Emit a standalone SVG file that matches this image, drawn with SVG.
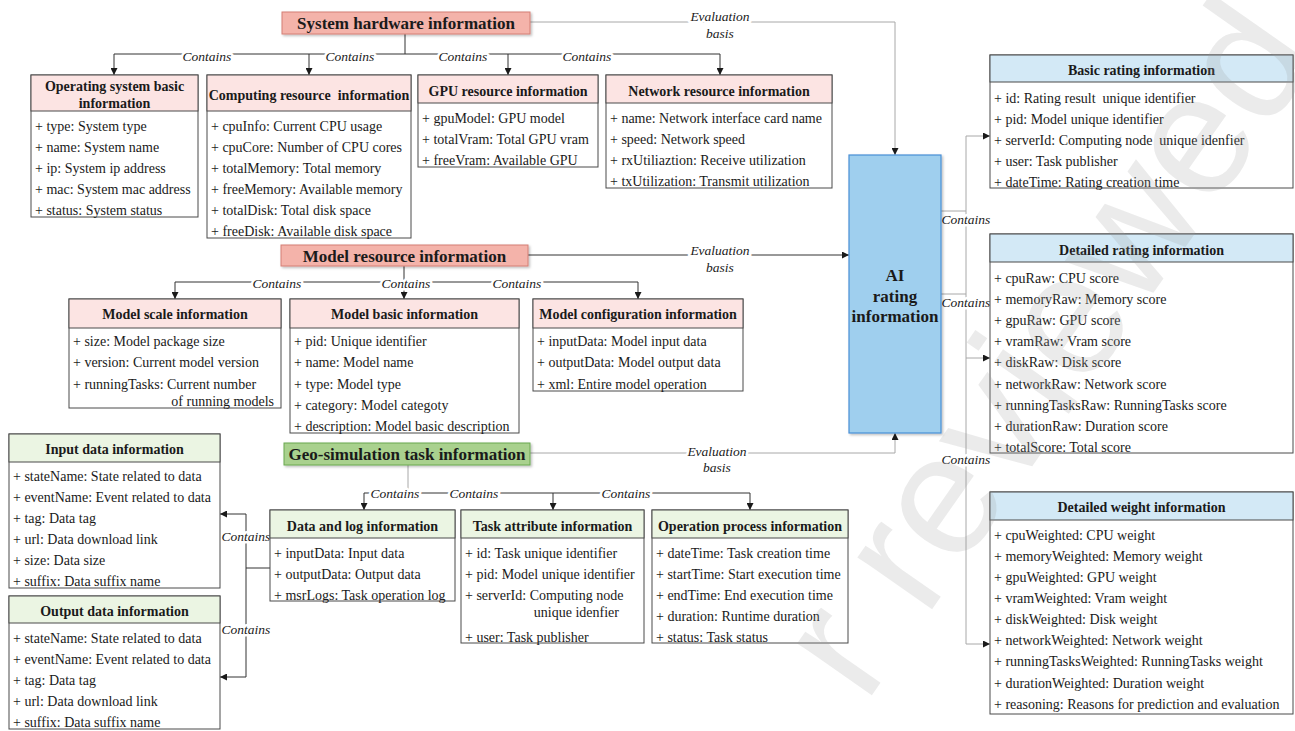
<svg xmlns="http://www.w3.org/2000/svg" width="1295" height="731" viewBox="0 0 1295 731">
  <defs>
    <marker id="arrow" viewBox="0 0 10 10" refX="10" refY="5" markerWidth="7" markerHeight="7" markerUnits="userSpaceOnUse" orient="auto">
      <path d="M0,0 L10,5 L0,10 z" fill="#1a1a1a"/>
    </marker>
    <filter id="shadow" x="-5%" y="-20%" width="110%" height="150%">
      <feDropShadow dx="1.5" dy="1.5" stdDeviation="1" flood-color="#000" flood-opacity="0.25"/>
    </filter>
  </defs>
  <style>
    text { font-family: "Liberation Serif", "Times New Roman", serif; fill: #1a1a1a; }
    .pre { white-space: pre; }
    .box { fill: #ffffff; stroke: #4a4a4a; stroke-width: 1; }
    .hp { fill: #fce4e3; stroke: #4a4a4a; stroke-width: 1; }
    .hg { fill: #ebf5e3; stroke: #4a4a4a; stroke-width: 1; }
    .hb { fill: #d3e9f6; stroke: #4a4a4a; stroke-width: 1; }
    .row { font-size: 14px; }
    .ttl { font-size: 14px; font-weight: bold; text-anchor: middle; }
    .main { font-size: 17px; font-weight: bold; text-anchor: middle; }
    .red { fill: #f4b3aa; stroke: #d47f74; stroke-width: 1; filter: url(#shadow); }
    .green { fill: #a9d18e; stroke: #6aa84f; stroke-width: 1; filter: url(#shadow); }
    .ai { fill: #9fcfee; stroke: #4a8fd6; stroke-width: 1.2; filter: url(#shadow); }
    .ln { fill: none; stroke: #333; stroke-width: 1; }
    .lg { fill: none; stroke: #a8a8a8; stroke-width: 1; }
    .arr { marker-end: url(#arrow); }
    .lbl { font-size: 13.5px; font-style: italic; text-anchor: middle; stroke: #fff; stroke-width: 5; paint-order: stroke; stroke-linejoin: round; }
    .wm { font-family: "Liberation Sans", Arial, sans-serif; font-size: 172px; fill: #9a9a9a; fill-opacity: 0.2; }
  </style>

  <!-- connectors -->
  <g id="connectors">
    <!-- system hardware -->
    <path class="ln" d="M405,34 V54 M114,54 H720"/>
    <path class="ln arr" d="M114,54 V75"/>
    <path class="ln arr" d="M309,54 V75"/>
    <path class="ln arr" d="M508,54 V75"/>
    <path class="ln arr" d="M720,54 V75"/>
    <path class="lg arr" d="M530,22 H895 V155"/>
    <!-- model resource -->
    <path class="ln" d="M404,266 V282 M175,282 H638"/>
    <path class="ln arr" d="M175,282 V299"/>
    <path class="ln arr" d="M404,282 V299"/>
    <path class="ln arr" d="M638,282 V299"/>
    <path class="ln arr" d="M528,255 H849"/>
    <!-- geo-simulation task -->
    <path class="lg" d="M408,465 V493"/>
    <path class="ln" d="M364,493 H750"/>
    <path class="ln arr" d="M364,493 V510"/>
    <path class="ln arr" d="M553,493 V510"/>
    <path class="ln arr" d="M750,493 V510"/>
    <path class="lg arr" d="M530,453 H895 V433"/>
    <!-- data and log -->
    <path class="ln" d="M270,568 H246 M246,514 V677"/>
    <path class="ln arr" d="M246,514 H220"/>
    <path class="ln arr" d="M246,677 H220"/>
    <!-- AI rating -->
    <path class="lg" d="M941,211 H966 M941,294 H966 M966,136 V644"/>
    <path class="lg arr" d="M966,136 H990"/>
    <path class="lg arr" d="M966,358 H990"/>
    <path class="lg arr" d="M966,644 H990"/>

    <text class="lbl" x="207" y="60.5">Contains</text>
    <text class="lbl" x="350" y="60.5">Contains</text>
    <text class="lbl" x="463" y="60.5">Contains</text>
    <text class="lbl" x="587" y="60.5">Contains</text>
    <text class="lbl" x="720" y="20.5">Evaluation</text>
    <text class="lbl" x="720" y="37.5">basis</text>
    <text class="lbl" x="277" y="287.5">Contains</text>
    <text class="lbl" x="406" y="287.5">Contains</text>
    <text class="lbl" x="517" y="287.5">Contains</text>
    <text class="lbl" x="720" y="254.5">Evaluation</text>
    <text class="lbl" x="720" y="271.5">basis</text>
    <text class="lbl" x="395" y="498">Contains</text>
    <text class="lbl" x="474" y="498">Contains</text>
    <text class="lbl" x="626" y="498">Contains</text>
    <text class="lbl" x="717" y="456">Evaluation</text>
    <text class="lbl" x="717" y="472">basis</text>
    <text class="lbl" x="246" y="541">Contains</text>
    <text class="lbl" x="246" y="634">Contains</text>
    <text class="lbl" x="966" y="224">Contains</text>
    <text class="lbl" x="966" y="307">Contains</text>
    <text class="lbl" x="966" y="464">Contains</text>
  </g>

  <!-- category nodes -->
  <g id="system-hardware">
    <rect class="red" x="282" y="12" width="248" height="22"/>
    <text class="main" x="406" y="29">System hardware information</text>
  </g>
  <g id="model-resource">
    <rect class="red" x="281" y="245" width="247" height="21"/>
    <text class="main" x="404.5" y="261.5">Model resource information</text>
  </g>
  <g id="geo-task">
    <rect class="green" x="284" y="443" width="246" height="22"/>
    <text class="main" x="407" y="459.5">Geo-simulation task information</text>
  </g>
  <g id="ai-rating">
    <rect class="ai" x="849" y="155" width="92" height="278"/>
    <text class="main" x="895" y="281">AI</text>
    <text class="main" x="895" y="301.5">rating</text>
    <text class="main" x="895" y="322">information</text>
  </g>

  <!-- system hardware details -->
  <g id="os-basic">
    <rect class="box" x="31" y="75" width="167" height="142"/>
    <rect class="hp" x="31" y="75" width="167" height="36"/>
    <text class="ttl" x="114.5" y="91">Operating system basic</text>
    <text class="ttl" x="114.5" y="108">information</text>
    <text class="row" x="35" y="130.5">+ type: System type</text>
    <text class="row" x="35" y="151.5">+ name: System name</text>
    <text class="row" x="35" y="172.5">+ ip: System ip address</text>
    <text class="row" x="35" y="193.5">+ mac: System mac address</text>
    <text class="row" x="35" y="214.5">+ status: System status</text>
  </g>
  <g id="computing-resource">
    <rect class="box" x="207" y="75" width="204" height="163"/>
    <rect class="hp" x="207" y="75" width="204" height="36"/>
    <text class="ttl pre" x="309" y="100">Computing resource  information</text>
    <text class="row" x="211" y="130.5">+ cpuInfo: Current CPU usage</text>
    <text class="row" x="211" y="151.5">+ cpuCore: Number of CPU cores</text>
    <text class="row" x="211" y="172.5">+ totalMemory: Total memory</text>
    <text class="row" x="211" y="193.5">+ freeMemory: Available memory</text>
    <text class="row" x="211" y="214.5">+ totalDisk: Total disk space</text>
    <text class="row" x="211" y="235.5">+ freeDisk: Available disk space</text>
  </g>
  <g id="gpu-resource">
    <rect class="box" x="418" y="75" width="180" height="92"/>
    <rect class="hp" x="418" y="75" width="180" height="28"/>
    <text class="ttl" x="508" y="95.5">GPU resource information</text>
    <text class="row" x="422" y="122.5">+ gpuModel: GPU model</text>
    <text class="row" x="422" y="144">+ totalVram: Total GPU vram</text>
    <text class="row" x="422" y="165">+ freeVram: Available GPU</text>
  </g>
  <g id="network-resource">
    <rect class="box" x="606" y="75" width="226" height="113"/>
    <rect class="hp" x="606" y="75" width="226" height="28"/>
    <text class="ttl" x="719" y="95.5">Network resource information</text>
    <text class="row" x="610" y="122.5">+ name: Network interface card name</text>
    <text class="row" x="610" y="144">+ speed: Network speed</text>
    <text class="row" x="610" y="165">+ rxUtiliaztion: Receive utilization</text>
    <text class="row" x="610" y="186">+ txUtilization: Transmit utilization</text>
  </g>

  <!-- model resource details -->
  <g id="model-scale">
    <rect class="box" x="69" y="299" width="212" height="109"/>
    <rect class="hp" x="69" y="299" width="212" height="29"/>
    <text class="ttl" x="175" y="319">Model scale information</text>
    <text class="row" x="73" y="346">+ size: Model package size</text>
    <text class="row" x="73" y="367.3">+ version: Current model version</text>
    <text class="row" x="73" y="388.7">+ runningTasks: Current number</text>
    <text class="row" x="274" y="406" text-anchor="end">of running models</text>
  </g>
  <g id="model-basic">
    <rect class="box" x="290" y="299" width="229" height="134"/>
    <rect class="hp" x="290" y="299" width="229" height="29"/>
    <text class="ttl" x="404.5" y="319">Model basic information</text>
    <text class="row" x="294" y="346">+ pid: Unique identifier</text>
    <text class="row" x="294" y="367.3">+ name: Model name</text>
    <text class="row" x="294" y="388.7">+ type: Model type</text>
    <text class="row" x="294" y="410">+ category: Model categoty</text>
    <text class="row" x="294" y="431">+ description: Model basic description</text>
  </g>
  <g id="model-config">
    <rect class="box" x="533" y="299" width="210" height="92"/>
    <rect class="hp" x="533" y="299" width="210" height="29"/>
    <text class="ttl" x="638" y="319">Model configuration information</text>
    <text class="row" x="537" y="346">+ inputData: Model input data</text>
    <text class="row" x="537" y="367.3">+ outputData: Model output data</text>
    <text class="row" x="537" y="388.7">+ xml: Entire model operation</text>
  </g>

  <!-- geo-simulation task details -->
  <g id="input-data">
    <rect class="box" x="9" y="434" width="211" height="154"/>
    <rect class="hg" x="9" y="434" width="211" height="28"/>
    <text class="ttl" x="114.5" y="454">Input data information</text>
    <text class="row" x="13" y="480.5">+ stateName: State related to data</text>
    <text class="row" x="13" y="501.5">+ eventName: Event related to data</text>
    <text class="row" x="13" y="523">+ tag: Data tag</text>
    <text class="row" x="13" y="544">+ url: Data download link</text>
    <text class="row" x="13" y="565">+ size: Data size</text>
    <text class="row" x="13" y="586">+ suffix: Data suffix name</text>
  </g>
  <g id="output-data">
    <rect class="box" x="9" y="596" width="211" height="133"/>
    <rect class="hg" x="9" y="596" width="211" height="27"/>
    <text class="ttl" x="114.5" y="616">Output data information</text>
    <text class="row" x="13" y="642.5">+ stateName: State related to data</text>
    <text class="row" x="13" y="663.5">+ eventName: Event related to data</text>
    <text class="row" x="13" y="685">+ tag: Data tag</text>
    <text class="row" x="13" y="706">+ url: Data download link</text>
    <text class="row" x="13" y="727">+ suffix: Data suffix name</text>
  </g>
  <g id="data-log">
    <rect class="box" x="270" y="510" width="185" height="91"/>
    <rect class="hg" x="270" y="510" width="185" height="28"/>
    <text class="ttl" x="362.5" y="530.5">Data and log information</text>
    <text class="row" x="274" y="557.5">+ inputData: Input data</text>
    <text class="row" x="274" y="578.5">+ outputData: Output data</text>
    <text class="row" x="274" y="599.5">+ msrLogs: Task operation log</text>
  </g>
  <g id="task-attribute">
    <rect class="box" x="461" y="510" width="183" height="133"/>
    <rect class="hg" x="461" y="510" width="183" height="28"/>
    <text class="ttl" x="552.5" y="530.5">Task attribute information</text>
    <text class="row" x="465" y="557.5">+ id: Task unique identifier</text>
    <text class="row" x="465" y="578.5">+ pid: Model unique identifier</text>
    <text class="row" x="465" y="599.5">+ serverId: Computing node</text>
    <text class="row" x="619" y="616.5" text-anchor="end">unique idenfier</text>
    <text class="row" x="465" y="641.5">+ user: Task publisher</text>
  </g>
  <g id="operation-process">
    <rect class="box" x="652" y="510" width="196" height="133"/>
    <rect class="hg" x="652" y="510" width="196" height="28"/>
    <text class="ttl" x="750" y="530.5">Operation process information</text>
    <text class="row" x="656" y="557.5">+ dateTime: Task creation time</text>
    <text class="row" x="656" y="578.5">+ startTime: Start execution time</text>
    <text class="row" x="656" y="599.5">+ endTime: End execution time</text>
    <text class="row" x="656" y="620.5">+ duration: Runtime duration</text>
    <text class="row" x="656" y="641.5">+ status: Task status</text>
  </g>

  <!-- rating details -->
  <g id="basic-rating">
    <rect class="box" x="990" y="55" width="303" height="133"/>
    <rect class="hb" x="990" y="55" width="303" height="27"/>
    <text class="ttl" x="1141.5" y="75">Basic rating information</text>
    <text class="row pre" x="994" y="102.5">+ id: Rating result  unique identifier</text>
    <text class="row" x="994" y="123.5">+ pid: Model unique identifier</text>
    <text class="row pre" x="994" y="144.5">+ serverId: Computing node  unique idenfier</text>
    <text class="row" x="994" y="165.5">+ user: Task publisher</text>
    <text class="row" x="994" y="186.5">+ dateTime: Rating creation time</text>
  </g>
  <g id="detailed-rating">
    <rect class="box" x="990" y="234" width="303" height="219"/>
    <rect class="hb" x="990" y="234" width="303" height="28"/>
    <text class="ttl" x="1141.5" y="255">Detailed rating information</text>
    <text class="row" x="994" y="282.5">+ cpuRaw: CPU score</text>
    <text class="row" x="994" y="303.5">+ memoryRaw: Memory score</text>
    <text class="row" x="994" y="325">+ gpuRaw: GPU score</text>
    <text class="row" x="994" y="346">+ vramRaw: Vram score</text>
    <text class="row" x="994" y="367">+ diskRaw: Disk score</text>
    <text class="row" x="994" y="388.5">+ networkRaw: Network score</text>
    <text class="row" x="994" y="409.5">+ runningTasksRaw: RunningTasks score</text>
    <text class="row" x="994" y="430.5">+ durationRaw: Duration score</text>
    <text class="row" x="994" y="451.5">+ totalScore: Total score</text>
  </g>
  <g id="detailed-weight">
    <rect class="box" x="990" y="492" width="303" height="222"/>
    <rect class="hb" x="990" y="492" width="303" height="28"/>
    <text class="ttl" x="1141.5" y="512">Detailed weight information</text>
    <text class="row" x="994" y="540">+ cpuWeighted: CPU weight</text>
    <text class="row" x="994" y="561">+ memoryWeighted: Memory weight</text>
    <text class="row" x="994" y="582">+ gpuWeighted: GPU weight</text>
    <text class="row" x="994" y="603">+ vramWeighted: Vram weight</text>
    <text class="row" x="994" y="624">+ diskWeighted: Disk weight</text>
    <text class="row" x="994" y="645">+ networkWeighted: Network weight</text>
    <text class="row" x="994" y="666">+ runningTasksWeighted: RunningTasks weight</text>
    <text class="row" x="994" y="687.5">+ durationWeighted: Duration weight</text>
    <text class="row" x="994" y="708.5">+ reasoning: Reasons for prediction and evaluation</text>
  </g>

  <!-- watermark -->
  <g id="watermark">
    <text class="wm" transform="translate(865,705) rotate(-55)">r reviewed</text>
  </g>
</svg>
